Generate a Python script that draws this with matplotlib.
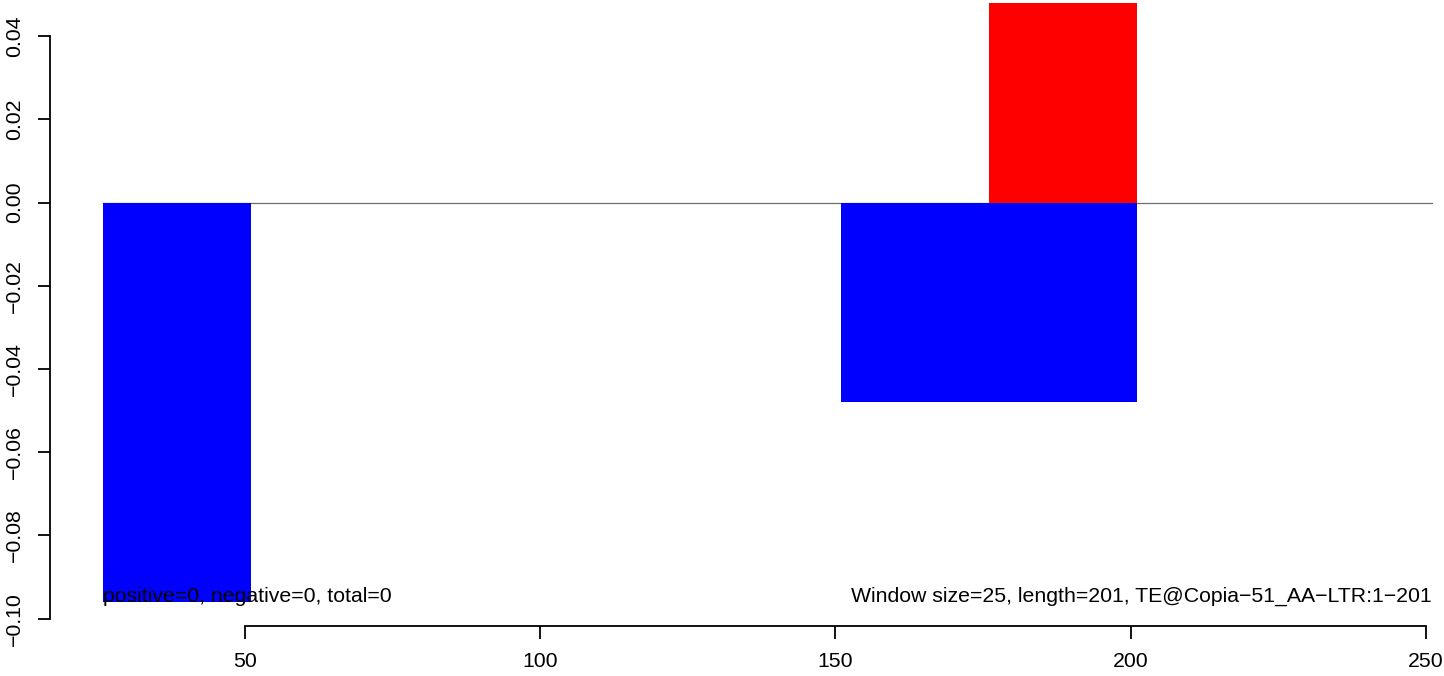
import matplotlib
matplotlib.use('Agg')
import matplotlib.pyplot as plt

plt.rcParams['font.family'] = ['Liberation Sans', 'DejaVu Sans']

# ventanas (inicio, valor), ancho de ventana 25
win_size = 25
neg_starts = [26, 151, 176]
neg_values = [-0.096, -0.048, -0.048]
pos_starts = [176]
pos_values = [0.048]
seq_start = 26
seq_end = 251

xticks = [50, 100, 150, 200, 250]
yticks = [-0.10, -0.08, -0.06, -0.04, -0.02, 0.00, 0.02, 0.04]

texto_izq = 'positive=0, negative=0, total=0'
texto_der = 'Window size=25, length=201, TE@Copia\u221251_AA\u2212LTR:1\u2212201'

W, H = 1444, 676
fig = plt.figure(figsize=(W / 100, H / 100), dpi=100)
# la región de gráfico se sale un poco de la imagen (arriba y a la derecha)
left_px, right_px, bottom_px, top_px = 50.1, 1485, 626, -21
ax = fig.add_axes([left_px / W, (H - bottom_px) / H,
                   (right_px - left_px) / W, (bottom_px - top_px) / H])

ax.set_xlim(17, 260)
ax.set_ylim(-0.10176, 0.05376)

ax.plot([seq_start, seq_end], [0, 0], color='#6e6e6e', lw=0.9, zorder=1)
ax.bar(neg_starts, neg_values, width=win_size, align='edge', color='blue',
       linewidth=0, zorder=2)
ax.bar(pos_starts, pos_values, width=win_size, align='edge', color='red',
       linewidth=0, zorder=2)

fs = 15.3
ax.text(seq_start, -0.096, texto_izq, ha='left', va='baseline', fontsize=fs, zorder=3)
ax.text(seq_end, -0.096, texto_der, ha='right', va='baseline', fontsize=fs, zorder=3)

for s in ['top', 'right']:
    ax.spines[s].set_visible(False)
ax.spines['left'].set_bounds(yticks[0], yticks[-1])
ax.spines['bottom'].set_bounds(xticks[0], xticks[-1])
ax.spines['left'].set_linewidth(1.3)
ax.spines['bottom'].set_linewidth(1.3)

ax.set_xticks(xticks)
ax.set_xticklabels([str(t) for t in xticks])
ax.set_yticks(yticks)
ax.set_yticklabels([f'{t:.2f}'.replace('-', '\u2212') for t in yticks],
                   rotation=90, va='center')
ax.tick_params(axis='both', length=9, width=1.3, labelsize=fs, pad=10)

fig.savefig('out.png', dpi=100)
